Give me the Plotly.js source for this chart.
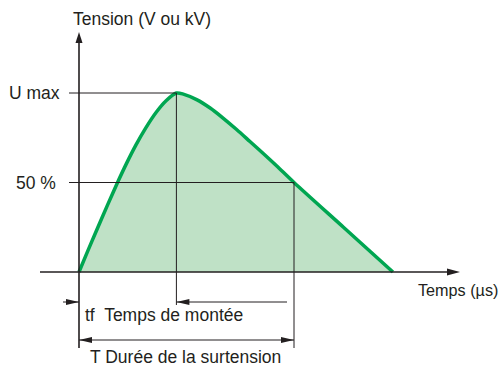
<!DOCTYPE html>
<html>
<head>
<meta charset="utf-8">
<script src="https://cdn.plot.ly/plotly-3.0.1.min.js"></script>
<style>
  html, body { margin: 0; padding: 0; background: #fff; }
  #plotDiv { width: 502px; height: 367px; }
</style>
</head>
<body>
<div id="plotDiv"></div>
<script>
// surge wave, time in arbitrary units (T = 100), voltage in % of U max
var tUs  = [0, 4, 8, 13.3, 18.5, 22, 26.5, 31, 36, 40.5, 45.3, 48.5, 54.7, 61, 67, 73.3, 79.5, 85.7, 92, 100, 123, 146];
var uPct = [0, 11.5, 22.8, 37.5, 51.5, 60.4, 71, 80.4, 89.4, 95.7, 100, 99.4, 96.3, 91.6, 86, 79.6, 72.9, 66.2, 59.2, 50, 25, 0];

var yLabels = ['U max', '50 %'];
var yTitle = 'Tension (V ou kV)';
var xTitle = 'Temps (µs)';
var tfLabel = 'tf  Temps de montée';
var tLabel = 'T Durée de la surtension';

var peakIdx = uPct.indexOf(Math.max.apply(null, uPct));
var uMax = uPct[peakIdx];
var tf = tUs[peakIdx];
var half = uMax / 2;
var T = tUs.find(function (t, i) { return i > peakIdx && uPct[i] <= half; });

// page pixels <-> data units (margins are zero)
var PX0 = 79, PY0 = 272, SX = 2.15, SY = 1.79;
function X(px) { return (px - PX0) / SX; }
function Y(py) { return (PY0 - py) / SY; }
function dX(px) { return px / SX; }
function dY(py) { return py / SY; }

var ink = '#231f20';
var shapes = [];

function line(x0, y0, x1, y1, w) {
  shapes.push({type: 'line', x0: x0, y0: y0, x1: x1, y1: y1,
    line: {color: ink, width: w}});
}
function tri(tx, ty, dir, len, hw) {
  var p;
  if (dir === 'r') p = [[tx, ty], [tx - dX(len), ty + dY(hw)], [tx - dX(len), ty - dY(hw)]];
  if (dir === 'l') p = [[tx, ty], [tx + dX(len), ty + dY(hw)], [tx + dX(len), ty - dY(hw)]];
  if (dir === 'u') p = [[tx, ty], [tx - dX(hw), ty - dY(len)], [tx + dX(hw), ty - dY(len)]];
  var path = 'M' + p.map(function (q) { return q[0] + ',' + q[1]; }).join('L') + 'Z';
  shapes.push({type: 'path', path: path, fillcolor: ink, line: {width: 0}});
}

// axes
line(0, Y(348), 0, Y(42), 1.6);
tri(0, Y(32), 'u', 11, 3.5);
line(X(40), 0, X(450), 0, 1.6);
tri(X(460), 0, 'r', 13, 3.5);

// reference lines
line(X(69), uMax, tf, uMax, 1);
line(X(69), half, T, half, 1);
line(tf, uMax, tf, Y(305), 1);
line(T, half, T, Y(348), 1);

// tf dimension
var yTf = Y(302);
line(X(63), yTf, 0, yTf, 1);
tri(0, yTf, 'r', 13, 3);
line(tf, yTf, X(287), yTf, 1);
tri(tf, yTf, 'l', 13, 3);

// T dimension
var yT = Y(340);
line(0, yT, T, yT, 1);
tri(0, yT, 'l', 13, 3);
tri(T, yT, 'r', 13, 3);

var family = 'Liberation Sans, Arial, sans-serif';
function label(text, x, y, anchor, size) {
  return {text: text, x: x, y: y, xref: 'x', yref: 'y', showarrow: false,
    xanchor: anchor, yanchor: 'middle', borderpad: 0,
    font: {family: family, size: size || 17.5, color: ink}};
}
var annotations = [
  label(yTitle, X(72), Y(19), 'left'),
  label(yLabels[0], X(61), uMax, 'right'),
  label(yLabels[1], X(57), half, 'right'),
  label(xTitle, X(417), Y(290), 'left', 16.2),
  label(tfLabel, X(84), Y(315), 'left'),
  label(tLabel, X(89), Y(357), 'left')
];

var wave = {
  type: 'scatter',
  mode: 'lines',
  x: tUs,
  y: uPct,
  fill: 'tozeroy',
  fillcolor: '#bfe1c6',
  line: {color: '#00a651', width: 3.5, shape: 'spline', smoothing: 0.8},
  hoverinfo: 'skip'
};

var layout = {
  width: 502,
  height: 367,
  autosize: false,
  margin: {l: 0, r: 0, t: 0, b: 0, pad: 0},
  paper_bgcolor: '#fff',
  plot_bgcolor: '#fff',
  showlegend: false,
  xaxis: {range: [X(0), X(502)], visible: false, fixedrange: true},
  yaxis: {range: [Y(367), Y(0)], visible: false, fixedrange: true},
  shapes: shapes,
  annotations: annotations
};

Plotly.newPlot('plotDiv', [wave], layout, {staticPlot: true, displayModeBar: false});
</script>
</body>
</html>
